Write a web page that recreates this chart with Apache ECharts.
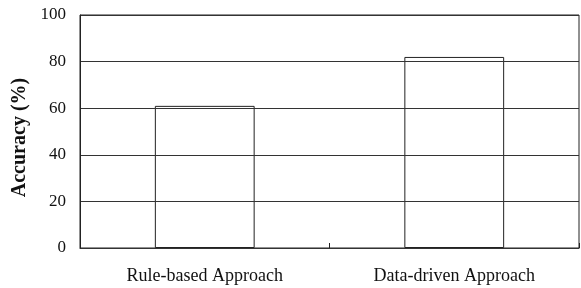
<!DOCTYPE html>
<html><head><meta charset="utf-8">
<script src="https://cdn.jsdelivr.net/npm/echarts@6/dist/echarts.min.js"></script>
<style>html,body{margin:0;padding:0;background:#fff}#c{width:581px;height:288px}</style>
</head><body><div id="c"></div>
<script>
const categories = ["Rule-based Approach", "Data-driven Approach"];
const accuracy = [61, 82];
const yTicks = [0, 20, 40, 60, 80, 100];

const chart = echarts.init(document.getElementById('c'), null, {renderer: 'canvas'});
const font = '"Liberation Serif", "Times New Roman", serif';
chart.setOption({
  animation: false,
  grid: {left: 80, right: 2, top: 15, bottom: 40, containLabel: false, outerBoundsMode: 'none',
         show: true, borderColor: '#222', borderWidth: 1},
  xAxis: {
    type: 'category', data: categories,
    axisLine: {show: true, lineStyle: {color: '#222', width: 1}},
    axisTick: {show: true, inside: true, length: 5, lineStyle: {color: '#222'}},
    axisLabel: {color: '#111', fontFamily: font, fontSize: 18, margin: 19}
  },
  yAxis: {
    type: 'value', min: yTicks[0], max: yTicks[yTicks.length - 1], interval: 20, z: 5,
    name: 'Accuracy (%)', nameLocation: 'middle', nameGap: 43, nameRotate: 90,
    nameTextStyle: {color: '#111', fontFamily: font, fontSize: 20, fontWeight: 'bold', padding: [0, 12, 0, 0]},
    axisLine: {show: true, lineStyle: {color: '#222', width: 1}},
    axisTick: {show: false},
    axisLabel: {color: '#111', fontFamily: font, fontSize: 17, margin: 14},
    splitLine: {show: true, lineStyle: {color: '#333', width: 1}}
  },
  series: [{
    type: 'bar', data: accuracy, barWidth: '40%',
    itemStyle: {color: 'rgba(255,255,255,0)', borderColor: '#222', borderWidth: 1}
  }]
});
</script></body></html>
